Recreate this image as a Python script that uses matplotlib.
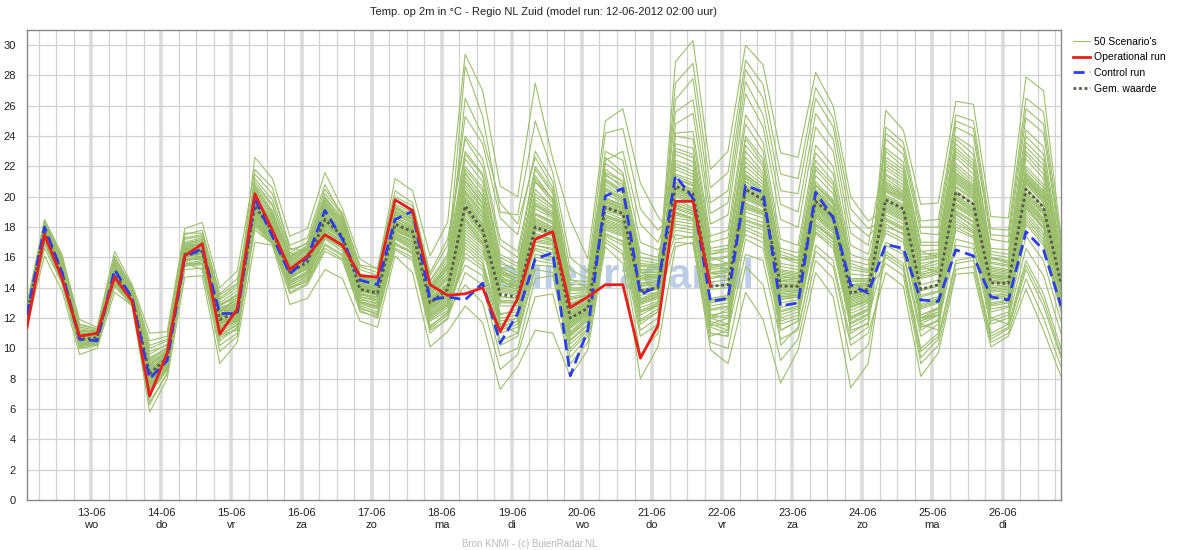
import numpy as np
import matplotlib
matplotlib.use("Agg")
import matplotlib.pyplot as plt

plt.rcParams["font.family"] = ["Liberation Sans", "DejaVu Sans"]

# time axis: 6-hourly steps from 12-06 02:00 to 26-06 20:00 (hours after model run)
hours = np.arange(0, 355, 6)

day_labels = ["13-06", "14-06", "15-06", "16-06", "17-06", "18-06", "19-06",
              "20-06", "21-06", "22-06", "23-06", "24-06", "25-06", "26-06"]
weekdays = ["wo", "do", "vr", "za", "zo", "ma", "di",
            "wo", "do", "vr", "za", "zo", "ma", "di"]

operational = [11.4, 17.5, 14.6, 10.8, 11.0, 14.7, 13.1, 6.85, 9.7, 16.1,
               16.9, 10.95, 12.6, 20.2, 17.8, 15.2, 16.1, 17.5, 16.8, 14.8,
               14.7, 19.8, 19.1, 14.2, 13.5, 13.6, 14.0, 11.1, 13.3, 17.2,
               17.7, 12.7, 13.4, 14.2, 14.2, 9.35, 11.5, 19.7, 19.7, 14.1]

control = [12.2, 18.0, 15.0, 10.6, 10.5, 15.2, 13.3, 8.0, 9.2, 16.0,
           16.6, 12.3, 12.3, 19.9, 17.4, 14.9, 16.0, 19.1, 17.2, 14.5,
           14.2, 18.5, 19.05, 13.2, 13.4, 13.2, 14.3, 10.35, 12.3, 15.9,
           16.3, 8.2, 11.2, 20.05, 20.55, 13.55, 14.1, 21.4, 19.9, 13.1,
           13.3, 20.75, 20.3, 12.8, 13.0, 20.3, 18.6, 14.2, 13.65, 16.85,
           16.6, 13.2, 13.1, 16.5, 16.1, 13.4, 13.2, 17.7, 16.5, 12.8]

gem = [12.3, 17.7, 15.0, 10.6, 10.7, 14.9, 13.3, 8.3, 9.4, 16.2,
       16.4, 11.9, 12.4, 19.4, 17.7, 15.0, 15.7, 18.5, 17.4, 13.9,
       13.65, 18.2, 17.7, 13.0, 13.9, 19.4, 17.8, 13.55, 13.4, 18.0,
       17.6, 12.0, 12.65, 19.3, 18.9, 13.8, 14.0, 20.7, 20.2, 14.1,
       14.2, 20.5, 19.8, 14.1, 14.1, 19.7, 18.7, 13.65, 13.9, 19.8,
       19.2, 13.9, 14.2, 20.3, 19.5, 14.3, 14.3, 20.5, 19.3, 14.3]

# 50 scenarios, read per period (steps 0-12, 13-24, 25-36, 37-48, 49-59)
scen_a = [
    [12.5, 18.1, 15.4, 10.9, 10.8, 15.3, 13.6, 8.9, 9.8, 16.6, 16.9, 12.4, 12.9],
    [12.0, 17.3, 14.6, 10.3, 10.5, 14.5, 13.0, 7.6, 9.0, 15.8, 16.0, 11.2, 12.0],
    [12.4, 17.8, 15.2, 10.7, 10.9, 15.0, 13.4, 8.5, 9.6, 16.4, 16.2, 12.8, 13.5],
    [12.1, 17.5, 14.8, 10.4, 10.6, 14.7, 13.2, 8.0, 9.3, 16.0, 16.6, 11.5, 11.8],
    [12.6, 18.3, 15.8, 11.3, 11.1, 15.6, 13.8, 9.8, 10.2, 17.2, 17.4, 13.2, 14.0],
    [11.9, 17.0, 14.2, 10.0, 10.2, 14.2, 12.9, 7.0, 8.6, 15.4, 15.6, 10.5, 11.4],
    [12.3, 17.9, 15.1, 10.6, 10.8, 15.1, 13.3, 8.2, 9.5, 16.3, 16.5, 12.0, 12.6],
    [12.7, 18.0, 15.5, 11.0, 11.0, 15.4, 13.5, 8.8, 9.9, 16.8, 16.9, 12.6, 13.0],
    [12.2, 17.6, 14.9, 10.5, 10.6, 14.8, 13.1, 7.9, 9.1, 16.1, 16.3, 11.7, 12.2],
    [12.8, 18.4, 16.0, 11.9, 11.4, 16.4, 14.2, 11.0, 11.1, 17.9, 18.3, 14.0, 15.1],
    [11.6, 16.9, 14.4, 10.2, 10.4, 14.4, 13.0, 6.5, 8.3, 15.6, 15.2, 10.2, 11.0],
    [12.4, 17.7, 15.0, 10.8, 10.7, 14.9, 13.4, 8.4, 9.4, 16.2, 16.0, 12.2, 12.7],
    [12.0, 17.4, 15.1, 10.5, 10.9, 15.2, 13.6, 8.6, 9.7, 16.5, 16.7, 11.4, 12.1],
    [12.5, 18.2, 15.6, 11.1, 11.2, 15.8, 13.9, 9.4, 10.0, 16.9, 17.2, 12.9, 13.3],
    [11.8, 17.2, 14.5, 10.1, 10.3, 14.6, 13.0, 7.3, 8.8, 15.9, 15.9, 11.0, 11.5],
    [12.3, 17.6, 14.7, 10.4, 10.5, 14.5, 12.9, 7.7, 9.0, 15.7, 16.1, 11.6, 12.3],
    [12.9, 18.5, 16.2, 11.5, 11.3, 16.1, 14.0, 10.2, 10.6, 17.5, 17.8, 13.5, 14.3],
    [11.5, 16.1, 13.8, 9.6, 10.0, 13.7, 12.8, 5.8, 8.0, 14.7, 14.8, 9.0, 10.4],
    [12.2, 17.9, 15.3, 10.7, 10.7, 15.0, 13.2, 8.1, 9.2, 16.0, 16.4, 12.1, 12.8],
    [12.6, 17.8, 15.0, 10.6, 10.8, 15.1, 13.5, 8.7, 9.6, 16.4, 16.8, 12.5, 12.5],
    [12.1, 17.3, 14.9, 10.3, 10.4, 14.9, 13.1, 7.5, 8.9, 16.1, 16.2, 11.3, 11.9],
    [12.4, 17.9, 15.2, 10.9, 11.0, 15.3, 13.7, 9.1, 9.9, 16.7, 16.9, 12.7, 13.1],
    [12.0, 17.1, 14.6, 10.2, 10.5, 14.4, 13.0, 7.2, 8.7, 15.5, 15.7, 10.8, 11.6],
    [12.3, 17.7, 15.3, 10.8, 10.9, 15.5, 13.4, 8.3, 9.5, 16.6, 16.5, 12.3, 12.4],
    [12.7, 18.0, 15.7, 11.2, 11.1, 15.7, 13.8, 9.6, 10.3, 17.0, 17.3, 13.0, 13.8],
    [11.9, 17.5, 14.8, 10.4, 10.6, 14.6, 13.1, 7.8, 9.1, 15.9, 16.0, 11.6, 12.0],
    [12.5, 17.8, 15.1, 10.7, 10.7, 15.0, 13.3, 8.4, 9.5, 16.3, 16.6, 12.0, 12.6],
    [12.2, 17.4, 14.7, 10.5, 10.5, 14.8, 13.2, 8.0, 9.2, 16.0, 16.3, 11.8, 12.2],
    [12.6, 18.2, 15.5, 11.0, 11.0, 15.4, 13.6, 9.0, 9.8, 16.7, 17.0, 12.6, 13.2],
    [12.0, 17.2, 14.5, 10.3, 10.4, 14.3, 12.9, 7.4, 8.8, 15.6, 15.8, 11.1, 11.7],
    [12.4, 17.6, 15.0, 10.6, 10.8, 15.2, 13.5, 8.5, 9.7, 16.5, 16.7, 12.2, 12.9],
    [12.1, 17.8, 15.2, 10.8, 10.6, 14.7, 13.0, 7.9, 9.3, 16.2, 16.4, 12.4, 13.4],
    [12.8, 18.3, 15.9, 11.4, 11.2, 15.9, 14.1, 10.5, 10.8, 17.6, 17.6, 13.6, 14.6],
    [11.7, 16.6, 14.3, 10.0, 10.2, 14.1, 12.8, 6.3, 8.4, 15.2, 15.3, 9.8, 10.8],
    [12.3, 17.5, 14.9, 10.6, 10.7, 15.0, 13.3, 8.2, 9.4, 16.3, 16.2, 11.9, 12.3],
    [12.5, 17.9, 15.4, 10.9, 10.9, 15.3, 13.4, 8.6, 9.6, 16.4, 16.8, 12.3, 12.7],
    [12.2, 17.6, 14.8, 10.4, 10.6, 14.6, 13.1, 7.7, 9.1, 15.8, 16.1, 11.4, 12.0],
    [12.6, 18.1, 15.6, 11.1, 11.1, 15.6, 13.7, 9.2, 10.1, 16.9, 17.1, 12.8, 13.6],
    [11.9, 17.0, 14.4, 10.2, 10.3, 14.5, 13.0, 7.1, 8.6, 15.5, 15.5, 10.7, 11.3],
    [12.4, 17.7, 15.1, 10.7, 10.8, 15.1, 13.4, 8.3, 9.5, 16.4, 16.5, 12.1, 12.5],
    [12.0, 17.4, 14.9, 10.5, 10.7, 14.9, 13.2, 8.1, 9.3, 16.1, 16.3, 11.6, 12.1],
    [12.7, 18.2, 15.5, 11.0, 11.0, 15.5, 13.6, 9.3, 10.0, 16.8, 17.1, 12.9, 13.5],
    [12.3, 17.8, 15.2, 10.6, 10.7, 15.1, 13.3, 8.4, 9.6, 16.4, 16.6, 12.1, 12.8],
    [12.1, 17.3, 14.6, 10.3, 10.4, 14.6, 13.0, 7.6, 9.0, 15.8, 15.9, 11.3, 11.8],
    [12.9, 18.4, 16.0, 11.6, 11.3, 16.0, 13.9, 10.0, 10.5, 17.3, 17.5, 13.3, 14.2],
    [11.8, 17.1, 14.5, 10.1, 10.4, 14.4, 13.0, 7.0, 8.7, 15.6, 15.6, 10.9, 11.2],
    [12.5, 17.9, 15.3, 10.8, 10.9, 15.2, 13.5, 8.8, 9.8, 16.6, 16.7, 12.4, 12.9],
    [12.2, 17.5, 14.8, 10.5, 10.6, 14.8, 13.2, 8.0, 9.2, 16.0, 16.2, 11.7, 12.2],
    [12.4, 17.7, 15.0, 10.6, 10.8, 15.0, 13.3, 8.6, 9.4, 16.3, 16.4, 12.0, 12.4],
    [12.6, 18.0, 15.3, 10.9, 10.9, 15.3, 13.6, 8.9, 9.7, 16.6, 16.9, 12.5, 13.0],
]

scen_b = [
    [20.1, 18.0, 15.3, 16.2, 19.4, 18.0, 14.5, 14.0, 18.9, 18.2, 13.5, 14.5],
    [18.6, 17.3, 14.5, 15.0, 17.6, 16.9, 13.2, 13.0, 17.5, 17.0, 12.2, 13.0],
    [19.0, 17.5, 15.8, 16.5, 19.9, 18.6, 14.8, 14.4, 19.3, 18.5, 14.0, 15.6],
    [19.8, 18.4, 14.6, 15.4, 17.9, 17.0, 13.6, 13.2, 17.8, 17.4, 12.6, 13.4],
    [20.5, 19.0, 16.0, 16.8, 20.2, 18.8, 15.2, 14.8, 19.8, 19.0, 14.5, 16.2],
    [18.3, 17.0, 14.0, 14.6, 17.2, 16.4, 12.8, 12.4, 17.0, 16.2, 11.5, 12.3],
    [19.5, 17.6, 15.2, 15.9, 18.7, 17.6, 14.0, 13.8, 18.4, 17.9, 13.2, 14.1],
    [22.6, 21.2, 17.4, 17.9, 21.6, 19.2, 15.9, 15.2, 21.2, 20.4, 16.1, 18.3],
    [19.2, 18.1, 15.0, 15.5, 18.2, 17.3, 13.8, 13.6, 18.0, 17.5, 12.9, 13.7],
    [21.8, 20.6, 16.6, 16.4, 19.0, 17.8, 14.2, 14.6, 18.6, 18.0, 13.8, 15.0],
    [17.8, 16.9, 13.6, 14.2, 16.4, 15.8, 12.5, 12.0, 16.6, 16.0, 11.0, 12.0],
    [19.6, 17.8, 15.5, 16.0, 19.1, 17.9, 14.3, 13.9, 18.5, 17.8, 13.3, 14.0],
    [20.3, 18.6, 14.8, 15.2, 18.0, 17.2, 13.5, 13.4, 17.7, 17.3, 12.7, 13.6],
    [19.1, 17.4, 15.6, 16.3, 19.6, 18.3, 14.6, 14.2, 19.0, 18.4, 13.8, 15.0],
    [18.9, 17.2, 14.3, 14.9, 17.5, 16.8, 13.0, 12.8, 17.3, 16.8, 12.0, 12.8],
    [19.7, 18.2, 15.1, 15.8, 18.6, 17.5, 14.0, 13.7, 18.2, 17.6, 13.0, 13.9],
    [20.8, 19.4, 16.3, 17.0, 20.5, 18.9, 15.4, 15.0, 20.0, 19.4, 14.8, 16.8],
    [17.0, 16.8, 12.9, 13.3, 15.2, 14.6, 11.8, 11.4, 16.1, 15.0, 10.1, 11.1],
    [19.4, 17.9, 15.4, 16.1, 18.9, 17.7, 14.1, 13.9, 18.3, 17.7, 13.1, 14.0],
    [18.7, 17.1, 14.7, 15.3, 17.8, 17.1, 13.4, 13.1, 17.6, 17.1, 12.4, 13.2],
    [20.0, 18.5, 15.9, 16.6, 19.5, 18.2, 14.7, 14.3, 19.1, 18.6, 13.9, 15.3],
    [19.3, 17.7, 14.9, 15.6, 18.4, 17.4, 13.9, 13.5, 18.1, 17.6, 12.8, 13.8],
    [18.4, 17.0, 14.2, 14.7, 17.3, 16.6, 12.9, 12.6, 17.2, 16.5, 11.8, 12.5],
    [21.2, 19.8, 16.5, 16.9, 20.0, 18.5, 14.9, 14.5, 19.4, 18.8, 14.2, 15.8],
    [19.9, 18.3, 15.0, 15.7, 18.8, 17.5, 14.2, 13.8, 18.2, 17.8, 13.4, 14.2],
    [18.8, 17.4, 14.4, 15.1, 17.7, 17.0, 13.3, 12.9, 17.6, 17.0, 12.3, 13.1],
    [19.6, 18.0, 15.3, 16.0, 18.6, 17.6, 14.0, 13.7, 18.4, 17.9, 13.1, 14.1],
    [20.6, 18.8, 15.7, 16.4, 19.2, 18.1, 14.4, 14.1, 18.8, 18.3, 13.6, 14.7],
    [18.1, 17.3, 13.9, 14.5, 16.9, 16.2, 12.6, 12.3, 16.8, 16.3, 11.3, 12.2],
    [19.3, 17.6, 15.1, 15.9, 18.5, 17.4, 13.9, 13.6, 18.2, 17.7, 13.0, 13.9],
    [20.2, 18.7, 16.1, 16.7, 19.7, 18.4, 14.9, 14.6, 19.3, 18.7, 14.1, 15.5],
    [19.0, 17.5, 14.6, 15.3, 18.1, 17.2, 13.7, 13.3, 17.9, 17.3, 12.6, 13.5],
    [19.5, 18.0, 15.2, 15.8, 18.3, 17.3, 13.8, 13.5, 18.0, 17.4, 12.9, 13.8],
    [18.5, 17.1, 14.1, 14.8, 17.4, 16.7, 13.1, 12.7, 17.4, 16.7, 12.1, 12.9],
    [21.5, 20.2, 16.8, 17.3, 20.8, 18.7, 15.5, 15.3, 20.4, 19.6, 15.0, 17.2],
    [19.7, 18.1, 15.4, 16.0, 18.9, 17.8, 14.2, 13.9, 18.6, 18.0, 13.3, 14.3],
    [18.9, 17.5, 14.7, 15.4, 17.8, 17.0, 13.4, 13.2, 17.8, 17.2, 12.5, 13.3],
    [20.4, 18.9, 15.6, 16.2, 19.3, 18.0, 14.5, 14.2, 18.9, 18.3, 13.7, 14.8],
    [18.2, 16.9, 14.0, 14.4, 16.8, 16.1, 12.7, 12.2, 16.9, 16.4, 11.4, 12.4],
    [19.4, 17.8, 15.0, 15.7, 18.5, 17.5, 14.0, 13.7, 18.3, 17.7, 13.0, 13.9],
    [19.8, 18.3, 15.5, 16.1, 19.0, 17.9, 14.3, 14.0, 18.7, 18.1, 13.5, 14.6],
    [18.6, 17.2, 14.4, 15.0, 17.5, 16.8, 13.1, 12.8, 17.4, 16.9, 12.2, 12.9],
    [20.0, 18.4, 15.8, 16.5, 19.4, 18.2, 14.6, 14.4, 19.0, 18.5, 13.9, 15.2],
    [19.2, 17.7, 14.9, 15.6, 18.3, 17.3, 13.8, 13.5, 18.1, 17.5, 12.8, 13.7],
    [21.0, 19.5, 16.2, 16.6, 19.8, 18.6, 14.8, 14.7, 19.5, 19.0, 14.4, 16.0],
    [18.0, 16.9, 13.7, 14.3, 16.6, 15.9, 12.4, 12.1, 16.5, 15.8, 11.2, 11.9],
    [19.6, 17.9, 15.3, 15.9, 18.7, 17.6, 14.1, 13.8, 18.4, 17.9, 13.2, 14.2],
    [19.1, 17.6, 14.8, 15.5, 18.1, 17.2, 13.6, 13.4, 17.9, 17.3, 12.7, 13.5],
    [20.7, 19.1, 16.0, 16.6, 19.6, 18.4, 14.7, 14.5, 19.2, 18.7, 14.0, 15.4],
    [18.3, 17.2, 14.3, 14.9, 17.3, 16.6, 13.0, 12.7, 17.3, 16.6, 11.9, 12.7],
]

scen_c = [
    [21.0, 19.5, 14.5, 14.0, 19.5, 18.8, 12.8, 13.2, 20.5, 19.8, 14.6, 14.8],
    [17.0, 16.0, 14.6, 13.8, 16.5, 16.0, 10.8, 11.8, 18.0, 17.6, 12.5, 13.0],
    [22.5, 21.0, 15.8, 15.0, 21.0, 19.6, 13.8, 13.8, 21.5, 20.6, 15.5, 15.4],
    [18.2, 17.0, 11.2, 11.6, 17.2, 17.0, 11.5, 12.3, 18.6, 18.3, 13.2, 13.6],
    [25.3, 23.5, 18.6, 17.5, 23.0, 21.0, 15.2, 14.6, 23.0, 22.4, 17.0, 16.5],
    [16.0, 15.2, 10.5, 11.0, 15.5, 15.4, 10.0, 11.2, 17.6, 17.0, 11.6, 12.4],
    [19.8, 18.2, 12.0, 12.2, 18.4, 17.9, 12.2, 12.8, 19.6, 19.2, 12.4, 12.8],
    [29.4, 27.0, 20.7, 20.0, 27.5, 22.5, 18.5, 15.9, 25.0, 25.8, 20.9, 18.7],
    [20.4, 19.0, 14.2, 13.9, 18.9, 18.4, 12.6, 13.0, 19.9, 19.4, 14.3, 14.4],
    [26.5, 24.0, 19.6, 18.2, 22.6, 20.6, 14.6, 14.0, 22.4, 23.0, 18.2, 17.0],
    [15.0, 14.2, 9.5, 10.0, 14.6, 14.8, 9.4, 10.8, 17.2, 16.4, 10.8, 11.6],
    [19.6, 18.0, 15.2, 14.6, 18.2, 17.8, 12.1, 12.7, 19.4, 19.0, 13.8, 14.0],
    [18.6, 17.2, 12.8, 12.8, 17.5, 17.2, 11.6, 12.4, 18.8, 18.4, 13.3, 13.7],
    [21.6, 20.0, 15.0, 14.6, 20.0, 19.2, 13.2, 13.5, 21.0, 20.2, 15.0, 15.0],
    [17.4, 16.4, 14.0, 14.2, 16.8, 16.5, 11.0, 12.0, 18.2, 17.8, 15.0, 14.6],
    [19.2, 17.6, 13.4, 13.3, 17.9, 17.5, 11.9, 12.6, 19.2, 18.8, 13.7, 13.9],
    [24.0, 22.5, 17.2, 16.4, 22.0, 20.4, 14.5, 14.4, 22.6, 21.6, 16.3, 16.0],
    [12.8, 11.7, 7.3, 8.8, 11.2, 11.0, 8.15, 9.9, 16.7, 15.6, 8.0, 10.1],
    [20.0, 18.6, 13.9, 13.7, 18.6, 18.0, 12.3, 12.9, 19.7, 19.3, 14.1, 14.3],
    [18.4, 17.0, 13.1, 13.0, 17.4, 17.1, 11.7, 12.4, 18.7, 18.2, 13.1, 13.5],
    [21.3, 19.8, 14.9, 14.4, 19.8, 19.0, 13.0, 13.4, 20.8, 20.0, 14.8, 14.9],
    [19.3, 17.7, 11.6, 11.0, 18.0, 17.6, 12.0, 12.6, 19.3, 18.9, 13.7, 14.0],
    [16.6, 15.6, 11.4, 11.8, 16.0, 15.8, 10.5, 11.5, 17.8, 17.4, 12.2, 12.8],
    [28.6, 25.3, 19.0, 18.8, 25.0, 21.6, 16.0, 15.0, 24.2, 24.5, 19.2, 17.8],
    [20.2, 18.7, 14.0, 13.8, 18.8, 18.2, 12.4, 13.0, 19.8, 19.4, 14.2, 14.4],
    [17.8, 16.8, 15.4, 14.8, 17.0, 16.8, 11.3, 12.2, 18.4, 18.0, 13.0, 13.4],
    [19.7, 18.1, 13.7, 13.5, 18.3, 17.8, 12.2, 12.8, 19.5, 19.1, 13.9, 14.1],
    [21.8, 20.4, 15.3, 14.8, 20.5, 19.3, 13.4, 13.6, 21.2, 20.4, 15.2, 15.2],
    [16.3, 15.4, 11.0, 11.4, 15.8, 15.6, 10.3, 11.3, 17.5, 17.1, 11.9, 12.6],
    [19.0, 17.5, 11.4, 11.8, 17.8, 17.4, 11.8, 12.5, 19.1, 18.7, 11.8, 12.4],
    [22.0, 20.6, 15.6, 15.2, 21.4, 19.8, 13.6, 13.7, 21.8, 21.0, 15.8, 15.6],
    [18.8, 17.4, 13.2, 13.1, 17.6, 17.2, 11.7, 12.5, 19.0, 18.5, 13.5, 13.7],
    [20.6, 19.2, 14.4, 14.1, 19.2, 18.6, 12.7, 13.1, 20.2, 19.6, 14.5, 14.6],
    [15.5, 14.8, 10.2, 10.8, 15.2, 15.0, 9.8, 11.0, 17.4, 16.8, 11.2, 12.0],
    [23.8, 22.0, 16.8, 16.0, 21.8, 20.2, 14.2, 14.2, 22.2, 21.4, 16.0, 15.8],
    [19.9, 18.4, 13.8, 13.6, 18.5, 18.0, 12.3, 12.9, 19.7, 19.2, 14.1, 14.2],
    [18.0, 16.9, 15.0, 14.4, 17.1, 16.9, 11.4, 12.3, 18.5, 18.1, 13.0, 13.4],
    [21.1, 19.6, 14.7, 14.3, 19.6, 18.9, 12.9, 13.3, 20.6, 19.9, 14.7, 14.8],
    [14.2, 13.0, 8.6, 9.6, 13.4, 13.6, 9.0, 10.4, 17.0, 16.2, 9.6, 11.0],
    [19.4, 17.9, 11.8, 12.0, 18.1, 17.7, 12.1, 12.7, 19.4, 19.0, 13.8, 14.0],
    [20.8, 19.3, 14.6, 14.2, 19.4, 18.7, 12.9, 13.2, 20.4, 19.7, 14.6, 14.7],
    [17.6, 16.6, 12.3, 12.4, 16.8, 16.6, 11.1, 12.1, 18.3, 17.9, 12.9, 13.3],
    [21.5, 20.1, 15.1, 14.6, 20.2, 19.4, 13.3, 13.5, 21.1, 20.3, 15.1, 15.1],
    [19.1, 17.6, 13.4, 13.3, 17.9, 17.5, 11.9, 12.6, 19.2, 18.8, 13.7, 13.9],
    [23.0, 21.5, 16.2, 15.6, 21.0, 19.9, 14.0, 14.0, 21.6, 21.0, 15.6, 15.5],
    [16.8, 15.8, 11.6, 12.0, 16.2, 16.0, 10.6, 11.6, 17.9, 17.5, 12.4, 12.9],
    [20.3, 18.9, 12.2, 12.6, 18.9, 18.3, 12.5, 13.0, 19.9, 19.5, 14.3, 14.5],
    [18.5, 17.2, 13.0, 13.0, 17.4, 17.1, 11.6, 12.4, 18.8, 18.3, 13.2, 13.6],
    [22.8, 21.4, 16.0, 15.4, 21.2, 19.8, 13.9, 13.9, 21.4, 20.8, 15.4, 15.3],
    [17.2, 16.2, 14.8, 14.0, 16.6, 16.3, 10.9, 11.9, 18.1, 17.7, 12.7, 13.1],
]

scen_d = [
    [19.5, 19.0, 15.6, 15.2, 19.4, 18.9, 13.4, 13.5, 18.8, 17.9, 12.8, 13.2],
    [22.4, 22.0, 15.5, 15.6, 22.6, 21.4, 15.2, 15.0, 21.0, 19.8, 14.6, 14.6],
    [20.2, 19.8, 11.4, 11.0, 20.0, 19.4, 13.8, 13.8, 19.2, 18.3, 13.3, 13.6],
    [23.5, 23.2, 16.6, 16.8, 24.0, 22.5, 16.0, 15.8, 22.4, 21.0, 15.6, 15.2],
    [18.0, 17.8, 14.6, 14.8, 17.5, 17.0, 11.6, 12.0, 17.6, 16.6, 11.4, 12.0],
    [19.0, 18.6, 15.0, 15.2, 21.4, 20.6, 14.8, 14.6, 20.3, 19.3, 14.2, 14.3],
    [20.5, 20.0, 12.0, 12.6, 20.3, 19.6, 16.2, 15.8, 19.6, 18.6, 13.6, 13.8],
    [17.2, 17.4, 11.0, 10.8, 21.0, 20.2, 10.2, 11.4, 16.4, 15.4, 10.2, 11.0],
    [28.9, 30.3, 21.8, 23.0, 30.0, 28.7, 22.9, 22.6, 28.2, 26.0, 20.0, 18.4],
    [19.8, 19.3, 15.8, 16.0, 19.6, 19.1, 13.5, 13.6, 19.0, 18.1, 13.0, 13.4],
    [24.8, 25.5, 18.2, 18.8, 26.8, 24.6, 18.5, 18.0, 24.6, 23.0, 16.8, 16.2],
    [21.0, 20.5, 14.4, 14.5, 20.8, 20.1, 14.3, 14.3, 19.9, 18.9, 13.9, 14.1],
    [18.6, 18.4, 15.0, 14.6, 18.2, 17.8, 12.2, 12.6, 18.1, 17.2, 11.9, 12.5],
    [20.9, 20.4, 11.8, 11.4, 20.7, 20.0, 14.2, 14.2, 19.8, 18.8, 13.8, 14.0],
    [26.4, 27.8, 19.6, 20.4, 28.4, 26.5, 20.4, 20.2, 26.5, 24.6, 18.4, 17.4],
    [19.2, 18.8, 13.0, 13.2, 19.0, 18.6, 13.0, 13.2, 18.6, 17.6, 12.5, 13.0],
    [20.4, 19.9, 13.9, 14.0, 20.1, 19.5, 11.2, 11.8, 19.4, 18.4, 13.4, 13.7],
    [16.7, 17.0, 9.9, 9.0, 13.7, 11.9, 7.7, 9.9, 15.0, 13.4, 7.4, 9.0],
    [22.0, 21.5, 15.3, 15.5, 22.0, 21.0, 15.0, 14.8, 20.7, 19.6, 14.5, 14.5],
    [21.2, 20.7, 12.2, 12.0, 21.0, 20.2, 14.4, 14.4, 20.0, 19.0, 14.0, 14.2],
    [18.4, 18.2, 12.2, 12.4, 18.0, 17.5, 12.0, 12.4, 17.9, 17.0, 11.7, 12.3],
    [23.0, 22.6, 16.2, 16.4, 23.4, 22.0, 15.6, 15.4, 21.8, 20.5, 15.2, 15.0],
    [20.6, 20.1, 14.1, 14.2, 20.4, 19.7, 16.4, 16.0, 19.6, 18.6, 13.6, 13.9],
    [19.0, 18.6, 12.8, 13.0, 18.7, 18.3, 12.7, 13.0, 18.4, 17.4, 12.3, 12.8],
    [25.6, 26.4, 18.9, 19.6, 27.6, 25.4, 19.5, 19.0, 25.5, 23.8, 17.6, 16.8],
    [20.0, 19.6, 11.6, 12.0, 19.8, 19.3, 13.6, 13.7, 19.1, 18.2, 13.1, 13.5],
    [21.4, 20.9, 14.9, 15.0, 21.3, 20.4, 14.6, 14.5, 20.2, 19.2, 14.1, 14.2],
    [17.8, 17.6, 11.5, 11.6, 17.2, 16.6, 11.2, 11.8, 20.8, 19.6, 11.0, 11.7],
    [22.8, 22.3, 15.9, 16.1, 23.0, 21.6, 15.4, 15.2, 21.4, 20.2, 14.9, 14.8],
    [20.3, 19.8, 16.0, 15.6, 20.2, 19.5, 13.9, 13.9, 19.4, 18.4, 13.4, 13.7],
    [19.6, 19.2, 13.3, 13.5, 19.5, 19.0, 13.4, 13.5, 18.9, 18.0, 12.9, 13.3],
    [24.2, 24.3, 17.4, 17.8, 25.4, 23.6, 17.2, 16.8, 23.4, 22.0, 16.2, 15.8],
    [18.9, 18.6, 12.6, 12.8, 18.5, 18.1, 12.5, 12.8, 18.2, 17.3, 12.1, 12.6],
    [21.8, 21.3, 15.2, 15.3, 21.7, 20.8, 14.9, 14.7, 20.5, 19.5, 14.4, 14.4],
    [20.8, 20.3, 11.6, 11.2, 20.6, 19.9, 14.2, 14.1, 19.7, 18.7, 13.7, 14.0],
    [17.5, 17.3, 10.8, 11.2, 16.2, 15.8, 10.6, 11.2, 16.8, 15.8, 10.6, 11.4],
    [21.2, 20.8, 14.7, 14.8, 21.2, 20.3, 14.5, 14.4, 20.1, 19.1, 14.0, 14.2],
    [19.4, 19.1, 13.1, 13.3, 19.2, 18.8, 13.2, 13.4, 18.7, 17.7, 12.7, 13.1],
    [23.2, 22.8, 16.4, 16.6, 23.8, 22.2, 16.0, 15.6, 22.0, 20.8, 15.4, 15.1],
    [20.5, 20.0, 16.2, 16.6, 20.4, 19.7, 14.0, 14.0, 19.5, 18.5, 13.5, 13.8],
    [18.2, 18.0, 12.0, 12.2, 17.8, 17.3, 11.8, 12.2, 17.7, 16.8, 11.6, 12.2],
    [22.2, 21.7, 15.4, 15.6, 22.3, 21.2, 15.1, 14.9, 20.8, 19.7, 14.6, 14.6],
    [20.1, 19.7, 11.0, 10.8, 19.9, 19.4, 13.7, 13.8, 19.3, 18.3, 13.2, 13.6],
    [27.5, 28.8, 20.6, 21.6, 29.0, 27.4, 21.5, 21.2, 27.2, 25.2, 19.2, 17.9],
    [19.3, 18.9, 13.2, 13.4, 19.3, 18.9, 13.3, 13.4, 18.8, 17.8, 12.7, 13.2],
    [21.5, 21.1, 15.0, 15.1, 21.5, 20.6, 14.7, 14.6, 20.4, 19.3, 14.2, 14.3],
    [18.8, 18.5, 12.5, 12.7, 18.4, 18.0, 12.4, 12.7, 18.2, 17.2, 12.0, 12.6],
    [20.7, 20.2, 12.0, 11.6, 20.5, 19.8, 14.1, 14.1, 19.7, 18.7, 11.2, 11.6],
    [24.0, 23.8, 17.0, 17.3, 24.8, 23.0, 16.6, 16.3, 22.9, 21.5, 15.8, 15.5],
    [17.0, 16.9, 10.4, 10.0, 15.4, 14.2, 9.2, 10.6, 15.8, 14.6, 9.2, 10.2],
]

scen_e = [
    [21.2, 20.4, 15.0, 15.3, 21.8, 20.8, 15.2, 15.0, 21.6, 20.4, 15.0],
    [18.0, 17.6, 14.8, 15.2, 18.6, 17.8, 13.0, 13.2, 19.0, 17.6, 13.0],
    [25.7, 24.4, 19.5, 19.6, 26.3, 26.1, 18.7, 18.6, 27.9, 27.0, 17.4],
    [19.6, 19.0, 11.6, 11.2, 20.0, 19.2, 14.1, 14.2, 20.2, 19.0, 14.2],
    [16.4, 15.6, 10.0, 11.0, 19.8, 19.0, 11.0, 11.6, 15.8, 13.6, 10.0],
    [22.6, 21.8, 16.4, 16.5, 23.5, 22.4, 16.2, 16.0, 23.6, 22.4, 15.8],
    [20.0, 19.4, 11.8, 12.2, 20.6, 19.8, 14.4, 14.4, 20.8, 19.6, 14.4],
    [15.0, 14.1, 8.15, 9.7, 14.9, 15.0, 10.1, 10.8, 13.9, 11.2, 8.15],
    [19.2, 18.6, 15.4, 15.8, 19.5, 18.8, 13.8, 13.9, 19.7, 18.4, 13.9],
    [23.8, 22.8, 17.6, 17.5, 24.6, 24.0, 17.2, 17.0, 25.2, 24.2, 16.6],
    [20.6, 20.0, 12.0, 12.2, 21.2, 20.3, 14.8, 14.7, 21.2, 20.0, 14.7],
    [20.4, 20.0, 11.6, 12.2, 17.8, 17.3, 12.4, 12.7, 18.2, 16.8, 12.4],
    [21.8, 21.0, 15.6, 15.8, 22.6, 21.5, 15.6, 15.4, 22.5, 21.2, 15.3],
    [19.4, 18.8, 13.5, 13.8, 19.8, 19.0, 11.8, 12.2, 20.0, 18.8, 14.0],
    [18.6, 18.0, 12.8, 13.2, 19.0, 18.3, 13.4, 13.6, 19.4, 18.0, 13.5],
    [24.6, 23.6, 18.4, 18.5, 25.4, 25.0, 17.9, 17.8, 26.5, 25.6, 17.0],
    [20.3, 19.7, 14.2, 14.5, 20.9, 20.0, 14.6, 14.5, 21.0, 19.8, 14.5],
    [16.8, 16.2, 10.8, 11.6, 16.8, 16.6, 11.6, 12.0, 16.6, 14.8, 11.0],
    [21.5, 20.8, 15.3, 15.6, 22.2, 21.2, 15.4, 15.2, 22.0, 20.8, 15.2],
    [19.0, 18.4, 13.1, 13.4, 19.3, 18.6, 16.0, 15.6, 19.6, 18.3, 13.8],
    [22.2, 21.4, 16.0, 16.2, 23.0, 22.0, 15.9, 15.7, 23.0, 21.8, 15.6],
    [20.1, 19.5, 11.4, 11.8, 20.7, 19.9, 14.5, 14.4, 20.9, 19.7, 14.4],
    [17.8, 17.2, 12.0, 12.6, 18.2, 17.6, 12.8, 13.0, 18.6, 17.2, 12.7],
    [19.8, 19.2, 13.9, 14.2, 20.3, 19.5, 14.3, 14.3, 20.5, 19.3, 14.3],
    [23.2, 22.3, 17.0, 17.0, 24.0, 23.2, 16.6, 16.5, 24.4, 23.3, 16.2],
    [18.4, 17.8, 12.6, 13.0, 18.9, 18.0, 13.2, 13.4, 19.2, 17.9, 13.3],
    [20.8, 20.2, 12.2, 12.6, 21.5, 20.6, 15.0, 14.8, 21.4, 20.2, 14.8],
    [19.3, 18.7, 13.4, 13.7, 19.6, 18.9, 13.9, 14.0, 19.9, 18.6, 14.0],
    [16.0, 15.2, 9.4, 10.6, 15.6, 15.8, 10.6, 11.3, 15.2, 12.8, 9.4],
    [21.0, 20.3, 14.9, 15.1, 21.6, 20.7, 15.1, 14.9, 21.5, 20.3, 14.9],
    [19.7, 19.1, 13.8, 14.1, 20.1, 19.3, 12.0, 11.6, 20.3, 19.1, 14.2],
    [18.2, 17.5, 12.2, 12.7, 18.4, 17.7, 12.9, 13.1, 18.8, 17.4, 12.9],
    [22.0, 21.2, 15.8, 16.0, 22.8, 21.8, 15.7, 15.5, 22.8, 21.5, 15.4],
    [20.4, 19.8, 12.0, 12.4, 21.0, 20.1, 14.7, 14.6, 21.1, 19.9, 14.6],
    [17.0, 16.4, 11.2, 11.9, 17.2, 16.9, 12.0, 12.4, 17.4, 15.8, 11.8],
    [23.0, 22.0, 16.8, 16.8, 23.8, 22.8, 16.4, 16.2, 24.0, 22.8, 16.0],
    [19.5, 18.9, 15.8, 16.2, 19.9, 19.1, 14.0, 14.1, 20.1, 18.9, 14.1],
    [20.9, 20.1, 14.7, 15.0, 21.4, 20.5, 14.9, 14.7, 21.3, 20.1, 14.8],
    [18.8, 18.2, 12.9, 13.3, 19.1, 18.4, 13.5, 13.7, 19.5, 18.2, 13.6],
    [15.6, 14.8, 9.0, 10.2, 15.2, 15.4, 10.4, 11.0, 14.6, 12.0, 8.8],
    [21.4, 20.6, 15.2, 15.4, 22.0, 21.0, 15.3, 15.1, 21.8, 20.6, 15.1],
    [19.9, 19.3, 11.4, 11.8, 20.4, 19.6, 14.4, 14.3, 20.6, 19.4, 14.3],
    [24.2, 23.2, 18.0, 18.0, 25.0, 24.5, 17.5, 17.4, 25.8, 24.8, 16.8],
    [18.5, 17.9, 12.7, 13.1, 18.8, 18.1, 13.3, 13.5, 19.3, 18.0, 13.4],
    [20.5, 19.9, 16.4, 16.0, 21.1, 20.2, 14.7, 14.6, 21.0, 19.9, 14.6],
    [17.6, 17.0, 11.8, 12.4, 18.0, 17.4, 12.6, 12.8, 18.4, 17.0, 12.6],
    [22.4, 21.6, 16.2, 16.3, 23.2, 22.2, 16.0, 15.8, 23.3, 22.1, 15.7],
    [19.1, 18.5, 15.4, 15.0, 19.4, 18.7, 13.7, 13.8, 19.8, 18.5, 13.8],
    [20.7, 20.1, 14.6, 14.9, 21.3, 20.4, 14.8, 14.7, 21.2, 20.0, 14.7],
    [16.2, 15.4, 9.8, 10.8, 15.8, 16.0, 10.8, 11.4, 15.5, 13.2, 9.6],
]

scenarios = np.hstack([np.array(s) for s in (scen_a, scen_b, scen_c, scen_d, scen_e)])

fig = plt.figure(figsize=(11.8, 5.5), dpi=100)
ax = fig.add_axes([27 / 1180, 50 / 550, 1034 / 1180, 470 / 550])

# grid: thin lines every 6 hours, broad light lines at midnight
day_pos = np.arange(22, 355, 24)
for h in np.arange(4, 355, 6):
    if h in day_pos:
        ax.axvline(h, color="#dcdcdc", lw=2.6, zorder=0)
    else:
        ax.axvline(h, color="#d2d2d2", lw=0.9, zorder=0)
for v in range(2, 31, 2):
    ax.axhline(v, color="#d2d2d2", lw=0.9, zorder=0)

# watermark
ax.text(204, 14.7, "buienradar.nl", color="#bccde6", fontsize=30,
        fontweight="bold", ha="center", va="center", zorder=1)

for i, row in enumerate(scenarios):
    ax.plot(hours, row, color="#9cbf6c", lw=0.8, zorder=2,
            label="50 Scenario's" if i == 0 else None)

ax.plot(hours[:len(operational)], operational, color="#e8201c", lw=2, zorder=6,
        label="Operational run")
ax.plot(hours, control, color="#2b3df0", lw=2, ls=(0, (4, 2)), zorder=5,
        label="Control run")
ax.plot(hours, gem, color="#595948", lw=2, ls=(0, (1, 1)), zorder=4,
        label="Gem. waarde")

ax.set_xlim(0, 354)
ax.set_ylim(0, 31)
ax.set_yticks(range(0, 31, 2))
ax.set_xticks(day_pos)
ax.set_xticklabels([f"{d}\n{w}" for d, w in zip(day_labels, weekdays)])
ax.tick_params(axis="both", length=0, labelsize=8, colors="#222222")
ax.tick_params(axis="x", pad=6)
ax.tick_params(axis="y", pad=8)
for s in ax.spines.values():
    s.set_color("#888888")
    s.set_linewidth(1)

ax.legend(loc="upper left", bbox_to_anchor=(1.008, 0.995), frameon=False,
          fontsize=7.5, handlelength=1.6, handletextpad=0.35,
          borderaxespad=0, labelspacing=0.55)

fig.text(544 / 1180, 1 - 12 / 550,
         "Temp. op 2m in \u00b0C - Regio NL Zuid (model run: 12-06-2012 02:00 uur)",
         ha="center", va="center", fontsize=8, color="#222222")
fig.text(530 / 1180, 1 - 544 / 550, "Bron KNMI - (c) BuienRadar.NL",
         ha="center", va="center", fontsize=7, color="#b8b8b8")

fig.savefig("out.png", dpi=100)
